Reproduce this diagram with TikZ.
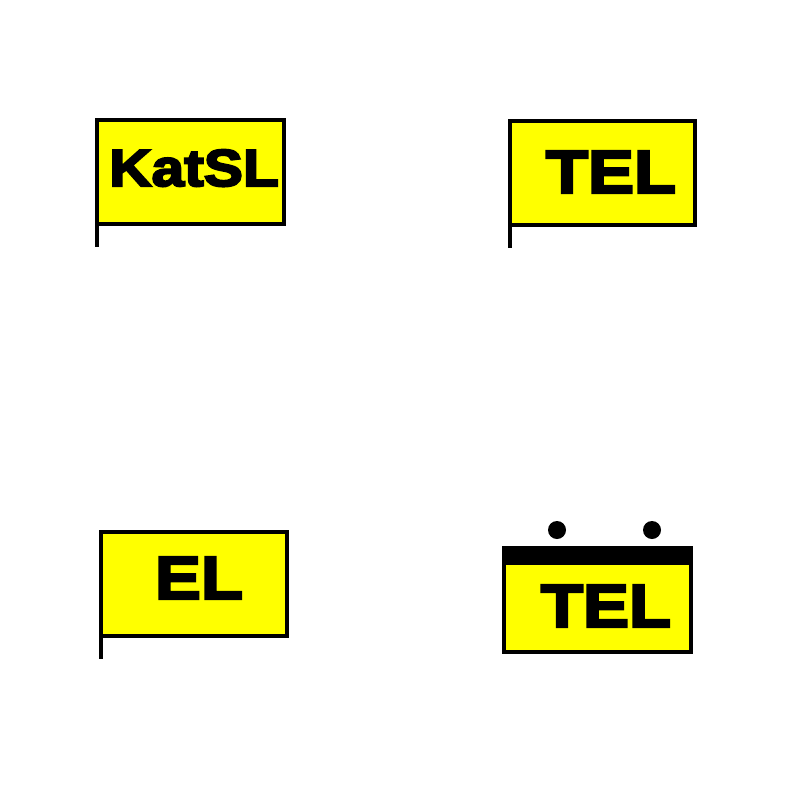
\documentclass[tikz,border=0pt]{standalone}
\usepackage{fontspec}
\newfontfamily\signfont[FakeStretch=1.13,FakeBold=4]{Liberation Sans}
\definecolor{signyellow}{RGB}{255,255,0}
\begin{document}
\begin{tikzpicture}[x=1pt,y=-1pt,
  signbox/.style={draw=black, line width=4.5pt, fill=signyellow},
  pole/.style={draw=black, line width=4.5pt},
  lbl/.style={font=\signfont\bfseries, anchor=base, inner sep=0pt, text=black}]
\useasboundingbox (0,0) rectangle (800,800);
% sign 1
\draw[signbox] (97,120) rectangle (284,224);
\draw[pole] (97,224) -- (97,247);
\node[lbl, font=\signfont\bfseries\fontsize{52}{52}\selectfont] (katsl) at (194,186) {KatSL};
% sign 2
\draw[signbox] (510,121) rectangle (695,225);
\draw[pole] (510,225) -- (510,248);
\node[lbl, font=\signfont\bfseries\fontsize{61}{61}\selectfont] (tel1) at (611,193) {TEL};
% sign 3
\draw[signbox] (101,532) rectangle (287,636);
\draw[pole] (101,636) -- (101,659);
\node[lbl, font=\signfont\bfseries\fontsize{61}{61}\selectfont] (el) at (199,599) {EL};
% sign 4
\fill[signyellow] (504,548) rectangle (691,652);
\fill[black] (504,546) rectangle (691,565);
\draw[pole] (504,548) rectangle (691,652);
\fill[black] (557,530) circle (9);
\fill[black] (652,530) circle (9);
\node[lbl, font=\signfont\bfseries\fontsize{61}{61}\selectfont] (tel2) at (606,627) {TEL};
\end{tikzpicture}
\end{document}
